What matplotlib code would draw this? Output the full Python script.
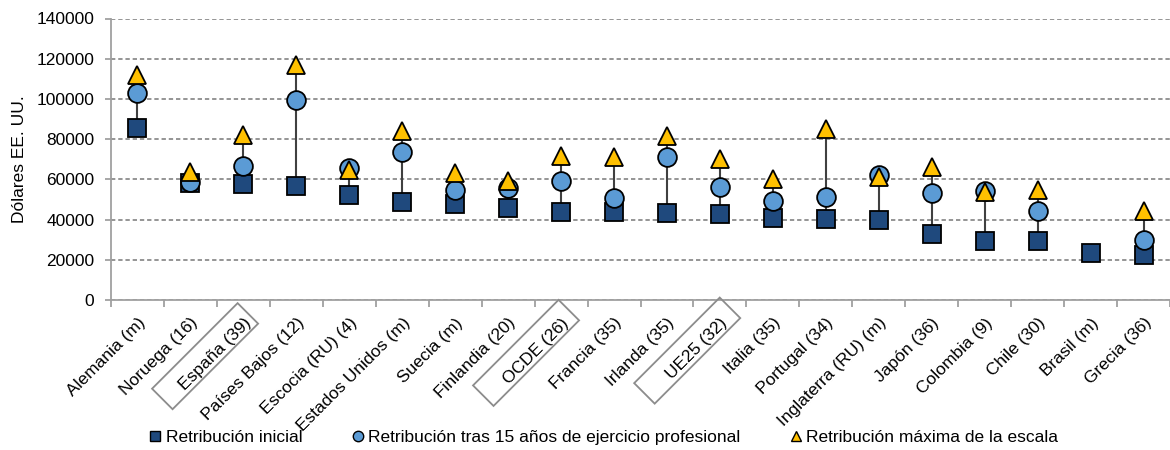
import matplotlib
matplotlib.use("Agg")
import matplotlib.pyplot as plt
from matplotlib.lines import Line2D
from matplotlib.patches import Polygon
from matplotlib.transforms import IdentityTransform
import numpy as np

plt.rcParams['font.family'] = ['Liberation Sans', 'DejaVu Sans']

categories = ["Alemania (m)", "Noruega (16)", "España (39)", "Países Bajos (12)", "Escocia (RU) (4)",
              "Estados Unidos (m)", "Suecia (m)", "Finlandia (20)", "OCDE (26)", "Francia (35)",
              "Irlanda (35)", "UE25 (32)", "Italia (35)", "Portugal (34)", "Inglaterra (RU) (m)",
              "Japón (36)", "Colombia (9)", "Chile (30)", "Brasil (m)", "Grecia (36)"]
inicial = [85600, 58000, 57500, 56800, 52200, 48900, 47700, 45600, 43900, 43900,
           43400, 42600, 40600, 40100, 39800, 32800, 29500, 29500, 23200, 22400]
tras15 = [102700, 58800, 66700, 99400, 65400, 73700, 54700, 55500, 59100, 50500,
          71200, 56300, 49200, 51300, 62100, 53300, 54300, 44200, np.nan, 29800]
maxima = [112000, 63800, 82000, 116800, 64700, 84000, 63000, 59100, 71700, 71200,
          81700, 69900, 60000, 85000, 61100, 65900, 53700, 54500, np.nan, 44200]
boxed = ["España (39)", "OCDE (26)", "UE25 (32)"]
yticks = [0, 20000, 40000, 60000, 80000, 100000, 120000, 140000]

c_sq = "#1F497D"
c_ci = "#5B9BD5"
c_tr = "#FFC000"
fs = 12.5

fig = plt.figure(figsize=(11.7, 4.5), dpi=100)
ax = fig.add_axes([111/1170, 150/450, 1059/1170, (300-18.5)/450])

x = np.arange(len(categories))
ini = np.array(inicial, float)
t15 = np.array(tras15, float)
mx = np.array(maxima, float)
allv = np.vstack([ini, t15, mx])
lo = np.nanmin(allv, axis=0)
hi = np.nanmax(allv, axis=0)
ax.vlines(x, lo, hi, color="#404040", lw=1.5, zorder=2)

ax.plot(x, ini, ls="none", marker="s", ms=13, mfc=c_sq, mec="black", mew=1.3, zorder=3)
ax.plot(x, t15, ls="none", marker="o", ms=13.5, mfc=c_ci, mec="black", mew=1.3, zorder=4)
ax.plot(x, mx, ls="none", marker="^", ms=13, mfc=c_tr, mec="black", mew=1.3, zorder=5)

ax.set_ylim(0, 140000)
ax.set_xlim(-0.5, -0.5 + 1059/53.4)
ax.set_yticks(yticks)
ax.set_yticklabels([str(v) for v in yticks], fontsize=fs)
ax.yaxis.grid(True, color="#8c8c8c", lw=1.3, ls=(0, (2.4, 1.6)), zorder=0)
ax.set_axisbelow(True)

for s in ["top", "right"]:
    ax.spines[s].set_visible(False)
for s in ["left", "bottom"]:
    ax.spines[s].set_color("#a0a0a0")
    ax.spines[s].set_linewidth(1.3)

ax.set_xticks(x)
ax.set_xticks(np.arange(-0.5, len(categories), 1.0), minor=True)
ax.tick_params(axis="x", which="major", length=0, pad=11)
ax.tick_params(axis="x", which="minor", length=5, color="#a0a0a0", width=1.3)
ax.tick_params(axis="y", length=4, color="#a0a0a0", width=1.3, pad=8)
ax.set_xticklabels(categories, rotation=45, ha="right", va="top",
                   rotation_mode="anchor", fontsize=fs)

ax.set_ylabel("Dólares EE. UU.", fontsize=fs)
ax.yaxis.set_label_coords((27 - 111) / 1059, 0.5)

handles = [
    Line2D([], [], ls="none", marker="s", ms=7.5, mfc=c_sq, mec="black", mew=1),
    Line2D([], [], ls="none", marker="o", ms=7.5, mfc=c_ci, mec="black", mew=1),
    Line2D([], [], ls="none", marker="^", ms=7.5, mfc=c_tr, mec="black", mew=1),
]
labels = ["Retribución inicial", "Retribución tras 15 años de ejercicio profesional",
          "Retribución máxima de la escala"]
fig.legend(handles, labels, loc="center left", bbox_to_anchor=(150/1170, 1 - 437/450), ncol=3,
           frameon=False, fontsize=fs, handlelength=0.6, handletextpad=0.3,
           columnspacing=2.9, borderpad=0, borderaxespad=0)

# boxes around highlighted labels (rotated rectangles, fixed size, centred on the label)
fig.canvas.draw()
r = fig.canvas.get_renderer()
bw, bh = 121.0, 29.0
ang = np.deg2rad(45)
c, s = np.cos(ang), np.sin(ang)
for lab in ax.get_xticklabels():
    if lab.get_text() in boxed:
        tmp = fig.text(0, 0, lab.get_text(), fontsize=fs)
        e = tmp.get_window_extent(r)
        tmp.remove()
        w, h = e.width, e.height
        axp = lab.get_transform().transform(lab.get_position())
        cx_l, cy_l = -w / 2, -h / 2
        cx = axp[0] + cx_l * c - cy_l * s - 10
        cy = axp[1] + cx_l * s + cy_l * c - 2
        corners = [(-bw/2, -bh/2), (bw/2, -bh/2), (bw/2, bh/2), (-bw/2, bh/2)]
        pts = [(cx + px * c - py * s, cy + px * s + py * c) for px, py in corners]
        fig.add_artist(Polygon(pts, closed=True, fill=False, ec="#8c8c8c", lw=1.3,
                               transform=IdentityTransform()))

fig.savefig("out.png", dpi=100)
